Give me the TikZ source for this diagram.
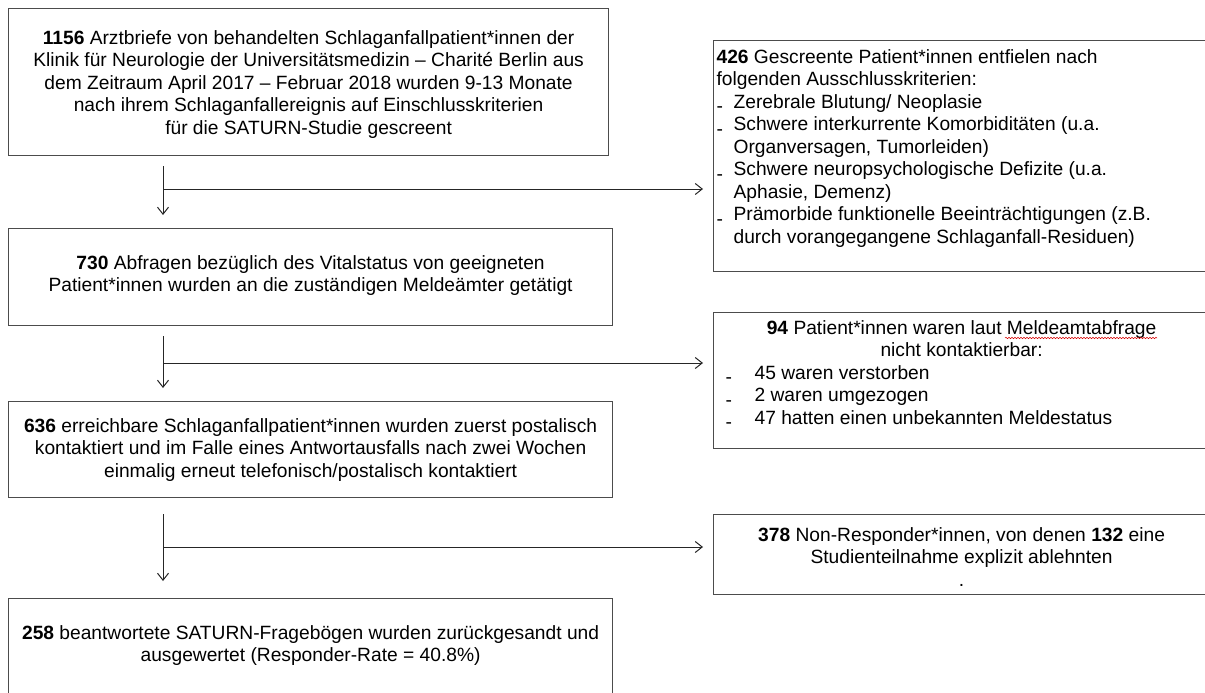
\documentclass[tikz,border=0pt]{standalone}
\usepackage{fontspec}
\setmainfont{Liberation Sans}
\usetikzlibrary{arrows.meta,decorations.pathmorphing}
\newcommand{\fs}{\fontsize{19.2pt}{22.5pt}\selectfont}
% width, height, top space, alignment, text
\newcommand{\bx}[5]{\parbox[t][#2][t]{#1}{\fs #4\parindent=0pt\vspace*{#3}\strut #5}}
\newcommand{\dash}{\makebox[0pt][l]{\raisebox{-4.5pt}{-}}}
\begin{document}
\begin{tikzpicture}[x=1pt,y=-1pt,
  box/.style={draw=black!70, line width=1.2pt, inner sep=0pt, anchor=north west},
  conn/.style={draw=black!85, line width=1pt},
  arr/.style={conn, -{Straight Barb[length=7pt,width=11pt]}}]
\useasboundingbox (0,0) rectangle (1205,693);

% main column
\node[box] (b1) at (8,8) {\bx{600pt}{147pt}{20pt}{\centering}{\textbf{1156} Arztbriefe von behandelten Schlaganfallpatient*innen der\\ Klinik für Neurologie der Universitätsmedizin – Charité Berlin aus\\ dem Zeitraum April 2017 – Februar 2018 wurden 9-13 Monate\\ nach ihrem Schlaganfallereignis auf Einschlusskriterien\\ für die SATURN-Studie gescreent}};

\node[box] (b2) at (8,228) {\bx{604pt}{97pt}{25pt}{\centering}{\textbf{730} Abfragen bezüglich des Vitalstatus von geeigneten\\ Patient*innen wurden an die zuständigen Meldeämter getätigt}};

\node[box] (b3) at (8,401) {\bx{604pt}{96pt}{15pt}{\centering}{\textbf{636} erreichbare Schlaganfallpatient*innen wurden zuerst postalisch\\ kontaktiert und im Falle eines Antwortausfalls nach zwei Wochen\\ einmalig erneut telefonisch/postalisch kontaktiert}};

\node[box] (b4) at (8,598) {\bx{604pt}{112pt}{25pt}{\centering}{\textbf{258} beantwortete SATURN-Fragebögen wurden zurückgesandt und\\ ausgewertet (Responder-Rate = 40.8\%)}};

% exclusion column
\node[box] (e1) at (713,40) {\bx{496pt}{231pt}{7pt}{\raggedright}{\hspace*{3pt}\textbf{426} Gescreente Patient*innen entfielen nach\\
\hspace*{3pt}folgenden Ausschlusskriterien:\\
\hspace*{3pt}\dash\hspace*{17pt}Zerebrale Blutung/ Neoplasie\\
\hspace*{3pt}\dash\hspace*{17pt}Schwere interkurrente Komorbiditäten (u.a.\\
\hspace*{20pt}Organversagen, Tumorleiden)\\
\hspace*{3pt}\dash\hspace*{17pt}Schwere neuropsychologische Defizite (u.a.\\
\hspace*{20pt}Aphasie, Demenz)\\
\hspace*{3pt}\dash\hspace*{17pt}Prämorbide funktionelle Beeinträchtigungen (z.B.\\
\hspace*{20pt}durch vorangegangene Schlaganfall-Residuen)}};

\node[box] (e2) at (713,312) {\bx{496pt}{136pt}{6pt}{\raggedright}{\makebox[496pt][c]{\textbf{94} Patient*innen waren laut Meldeamtabfrage}\\
\makebox[496pt][c]{nicht kontaktierbar:}\\
\hspace*{12pt}\dash\hspace*{29pt}45 waren verstorben\\
\hspace*{12pt}\dash\hspace*{29pt}2 waren umgezogen\\
\hspace*{12pt}\dash\hspace*{29pt}47 hatten einen unbekannten Meldestatus}};

\node[box] (e3) at (713,514) {\bx{496pt}{80pt}{11pt}{\centering}{\textbf{378} Non-Responder*innen, von denen \textbf{132} eine\\ Studienteilnahme explizit ablehnten\\ .}};

% spell-check wave under "Meldeamtabfrage"
\draw[red!85!black, line width=0.5pt, decorate, decoration={snake, amplitude=0.7pt, segment length=3pt}] (1005,338) -- (1157,338);

% connectors
\coordinate (cx) at (163,0);
\coordinate (j1) at (163,189);
\coordinate (j2) at (163,363);
\coordinate (j3) at (163,547);
\draw[arr, shorten <=10pt, shorten >=13pt] (b1.south -| cx) -- (b2.north -| cx);
\draw[arr, shorten <=10pt, shorten >=13pt] (b2.south -| cx) -- (b3.north -| cx);
\draw[arr, shorten <=16pt, shorten >=17pt] (b3.south -| cx) -- (b4.north -| cx);
\draw[arr, shorten >=10pt] (j1) -- (j1 -| e1.west);
\draw[arr, shorten >=10pt] (j2) -- (j2 -| e2.west);
\draw[arr, shorten >=10pt] (j3) -- (j3 -| e3.west);
\end{tikzpicture}
\end{document}
